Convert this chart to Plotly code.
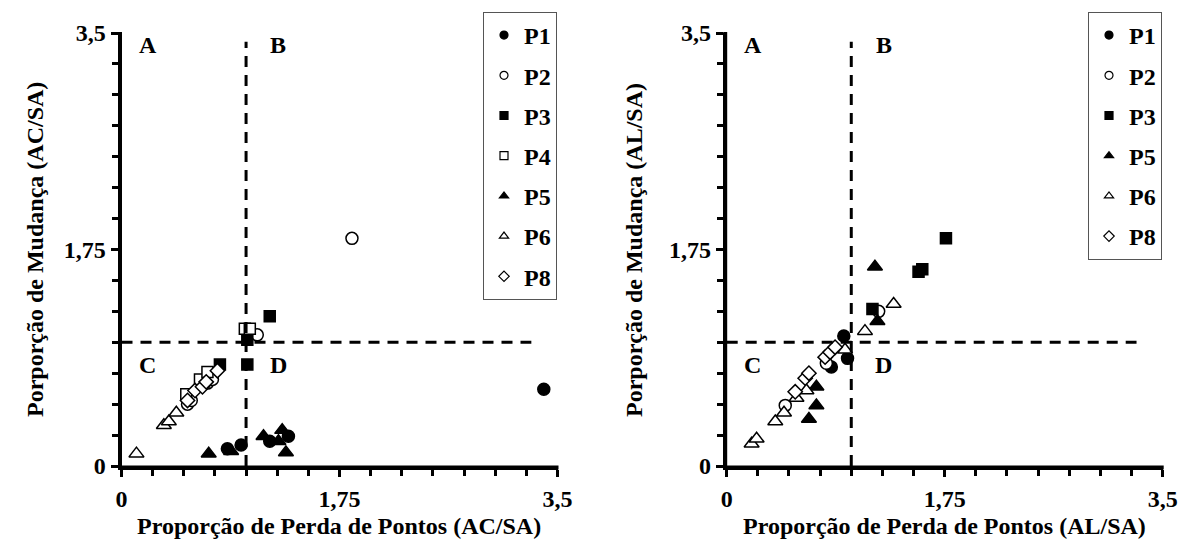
import plotly.graph_objects as go

# ---------------- data: left panel (AC/SA) ----------------
ac_p1_x = [0.85, 0.96, 1.19, 1.34, 3.39]
ac_p1_y = [0.14, 0.17, 0.20, 0.24, 0.62]
ac_p2_x = [0.53, 0.56, 0.69, 0.73, 1.09, 1.85]
ac_p2_y = [0.50, 0.53, 0.67, 0.70, 1.06, 1.84]
ac_p3_x = [0.79, 1.01, 1.01, 1.19]
ac_p3_y = [0.82, 0.82, 1.02, 1.21]
ac_p4_x = [0.52, 0.63, 0.69, 0.99, 1.03]
ac_p4_y = [0.58, 0.70, 0.76, 1.11, 1.11]
ac_p5_x = [0.70, 0.88, 1.14, 1.26, 1.29, 1.32]
ac_p5_y = [0.10, 0.12, 0.24, 0.20, 0.29, 0.11]
ac_p6_x = [0.12, 0.34, 0.38, 0.44]
ac_p6_y = [0.10, 0.33, 0.36, 0.43]
ac_p8_x = [0.53, 0.59, 0.65, 0.68, 0.77]
ac_p8_y = [0.53, 0.61, 0.64, 0.68, 0.77]

# ---------------- data: right panel (AL/SA) ----------------
al_p1_x = [0.84, 0.97, 0.94]
al_p1_y = [0.80, 0.87, 1.05]
al_p2_x = [0.47, 0.80, 1.22]
al_p2_y = [0.49, 0.83, 1.25]
al_p3_x = [1.17, 1.54, 1.57, 1.76]
al_p3_y = [1.27, 1.57, 1.59, 1.84]
al_p5_x = [0.66, 0.72, 0.72, 1.21, 1.19]
al_p5_y = [0.38, 0.49, 0.64, 1.17, 1.61]
al_p6_x = [0.20, 0.24, 0.39, 0.46, 0.56, 0.64, 0.95, 1.11, 1.34]
al_p6_y = [0.18, 0.22, 0.36, 0.43, 0.55, 0.61, 0.94, 1.09, 1.31]
al_p8_x = [0.55, 0.63, 0.66, 0.79, 0.83, 0.87]
al_p8_y = [0.60, 0.71, 0.75, 0.88, 0.92, 0.96]

tick_vals = [0, 1.75, 3.5]
tick_text = ["0", "1,75", "3,5"]
quadrant_labels = ["A", "B", "C", "D"]

FONT = "Liberation Serif"

styles = {
    "P1": dict(symbol="circle", color="black", size=12),
    "P2": dict(symbol="circle", color="white", size=12),
    "P3": dict(symbol="square", color="black", size=11),
    "P4": dict(symbol="square", color="white", size=11),
    "P5": dict(symbol="triangle-up", color="black", size=13),
    "P6": dict(symbol="triangle-up", color="white", size=13),
    "P8": dict(symbol="diamond", color="white", size=11),
}

left_series = [("P1", ac_p1_x, ac_p1_y), ("P2", ac_p2_x, ac_p2_y), ("P3", ac_p3_x, ac_p3_y),
               ("P4", ac_p4_x, ac_p4_y), ("P5", ac_p5_x, ac_p5_y), ("P6", ac_p6_x, ac_p6_y),
               ("P8", ac_p8_x, ac_p8_y)]
right_series = [("P1", al_p1_x, al_p1_y), ("P2", al_p2_x, al_p2_y), ("P3", al_p3_x, al_p3_y),
                ("P5", al_p5_x, al_p5_y), ("P6", al_p6_x, al_p6_y), ("P8", al_p8_x, al_p8_y)]

fig = go.Figure()

def add_panel(series, xa, ya, legend, tag):
    for name, xs, ys in series:
        st = styles[name]
        fig.add_trace(go.Scatter(
            x=xs, y=ys, mode="markers", name=name, xaxis=xa, yaxis=ya,
            showlegend=False, cliponaxis=False,
            marker=dict(symbol=st["symbol"], size=st["size"], color=st["color"],
                        line=dict(color="black", width=1.5))))
    # legend entries
    for name, xs, ys in series:
        st = styles[name]
        fig.add_trace(go.Scatter(
            x=[None], y=[None], mode="markers", name=name, xaxis=xa, yaxis=ya,
            legend=legend, legendgroup=tag + name, showlegend=True,
            marker=dict(symbol=st["symbol"], size=8, color=st["color"],
                        line=dict(color="black", width=1.2))))

add_panel(left_series, "x", "y", "legend", "L")
add_panel(right_series, "x2", "y2", "legend2", "R")

W, H = 1189, 547
X0L, X1L = 121.5, 557.5
X0R, X1R = 726.7, 1162.7
YB, YT = 466, 33
ydom = [1 - YB / H, 1 - YT / H]

legend_common = dict(
    xanchor="left", yanchor="top", bgcolor="white", bordercolor="#555", borderwidth=1,
    font=dict(family=FONT, size=24, color="black", weight="bold"),
    tracegroupgap=6, itemwidth=30,
)

fig.update_layout(
    template="none",
    width=W, height=H, margin=dict(l=0, r=0, t=0, b=0, autoexpand=False),
    paper_bgcolor="white", plot_bgcolor="rgba(0,0,0,0)",
    xaxis=dict(domain=[X0L / W, X1L / W], anchor="y"),
    yaxis=dict(domain=ydom, anchor="x"),
    xaxis2=dict(domain=[X0R / W, X1R / W], anchor="y2"),
    yaxis2=dict(domain=ydom, anchor="x2"),
    legend=dict(x=483 / W, y=1 - 12 / H, **legend_common),
    legend2=dict(x=1088 / W, y=1 - 12 / H, **legend_common),
)

axis_style = dict(
    range=[0, 3.5], showgrid=False, zeroline=False, automargin=False,
    showline=True, linewidth=4, linecolor="#000000", mirror=False, layer="above traces",
    ticks="outside", ticklen=7, tickwidth=3, tickcolor="#000000",
    tickmode="array", tickvals=tick_vals, ticktext=tick_text,
    tickfont=dict(family=FONT, size=24, color="black", weight="bold"),
    minor=dict(dtick=0.25, tick0=0, ticks="outside", ticklen=6, tickwidth=3,
               tickcolor="#000000", showgrid=False),
    fixedrange=True,
)
fig.update_xaxes(ticklabelstandoff=1, **axis_style)
fig.update_yaxes(ticklabelstandoff=0, **axis_style)

# thick solid axis frame lines (paper-referenced, never clipped)
for x0, x1 in [(X0L, X1L), (X0R, X1R)]:
    fig.add_shape(type="line", xref="paper", yref="paper",
                  x0=(x0 - 1.5) / W, x1=(x1 + 1) / W, y0=1 - (YB + 1.5) / H, y1=1 - (YB + 1.5) / H,
                  line=dict(color="black", width=4), layer="above")
    fig.add_shape(type="line", xref="paper", yref="paper",
                  x0=(x0 - 1.5) / W, x1=(x0 - 1.5) / W, y0=1 - (YB + 3) / H, y1=1 - (YT - 1) / H,
                  line=dict(color="black", width=4), layer="above")

# dashed quadrant lines
dash = "11px,8px"
for xr, yr in [("x", "y"), ("x2", "y2")]:
    fig.add_shape(type="line", xref=xr, yref=yr, x0=1, x1=1, y0=0, y1=3.43,
                  line=dict(color="black", width=3, dash=dash))
    fig.add_shape(type="line", xref=xr, yref=yr, x0=0, x1=3.29, y0=1, y1=1,
                  line=dict(color="black", width=3, dash=dash))
    for lab, qx, qy in zip(quadrant_labels, [0.21, 1.26, 0.21, 1.26], [3.40, 3.40, 0.82, 0.82]):
        fig.add_annotation(xref=xr, yref=yr, x=qx, y=qy, text=lab, showarrow=False,
                           xanchor="center", yanchor="middle",
                           font=dict(family=FONT, size=24, color="black", weight="bold"))

title_font = dict(family=FONT, size=24, color="black", weight="bold")
fig.add_annotation(xref="paper", yref="paper", x=339 / W, y=1 - 526 / H,
                   xanchor="center", yanchor="middle",
                   text="Proporção de Perda de Pontos (AC/SA)", showarrow=False, font=title_font)
fig.add_annotation(xref="paper", yref="paper", x=944 / W, y=1 - 526 / H,
                   xanchor="center", yanchor="middle",
                   text="Proporção de Perda de Pontos (AL/SA)", showarrow=False, font=title_font)
fig.add_annotation(xref="paper", yref="paper", x=35 / W, y=1 - 250 / H, textangle=-90,
                   xanchor="center", yanchor="middle",
                   text="Porporção de Mudança (AC/SA)", showarrow=False, font=title_font)
fig.add_annotation(xref="paper", yref="paper", x=634 / W, y=1 - 250 / H, textangle=-90,
                   xanchor="center", yanchor="middle",
                   text="Porporção de Mudança (AL/SA)", showarrow=False, font=title_font)

fig.write_html("out.html", config={"displayModeBar": False},
               post_script="document.body.style.margin='0';document.body.style.padding='0';")
